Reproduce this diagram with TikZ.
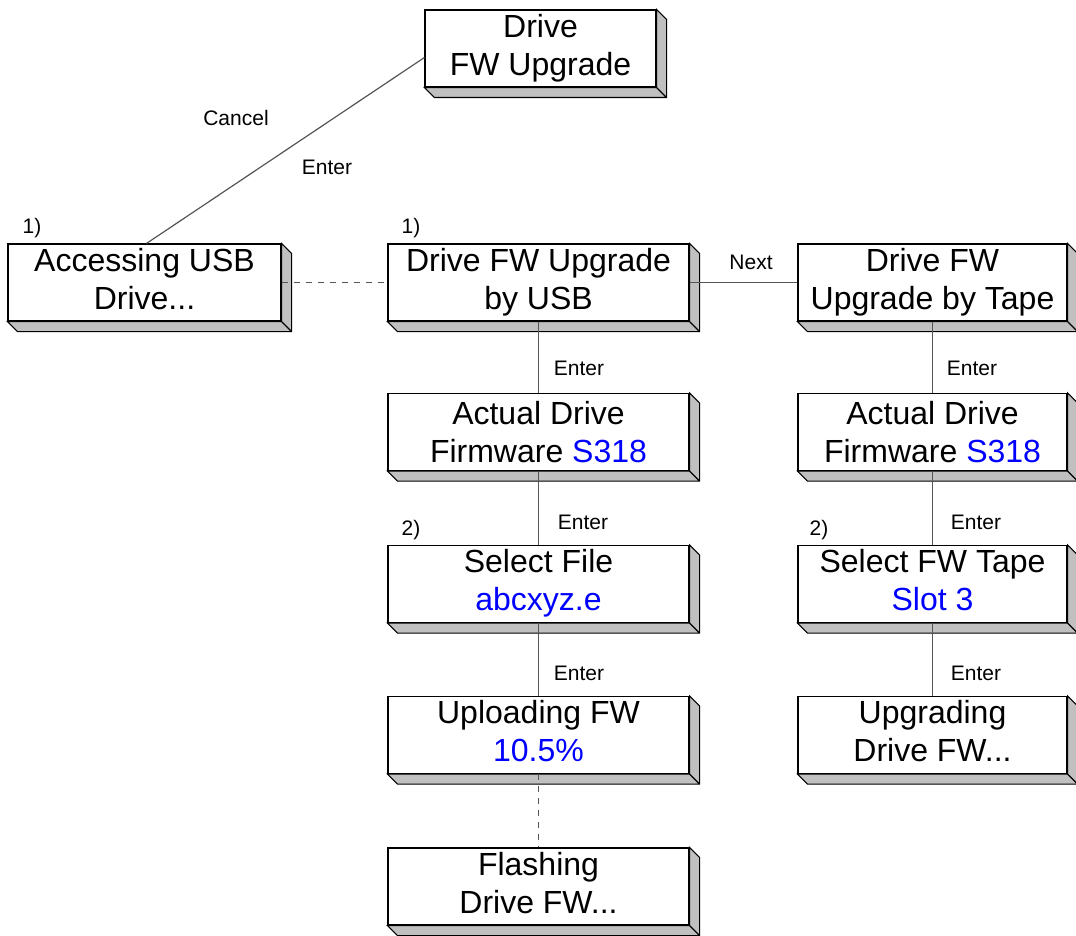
\documentclass[tikz,border=0pt]{standalone}
\usepackage{fontspec}
\setmainfont{Liberation Sans}
\usetikzlibrary{positioning}
\definecolor{slab}{RGB}{192,192,192}
\definecolor{wire}{RGB}{85,85,85}
\begin{document}
\begin{tikzpicture}[x=0.5pt,y=-0.5pt,
	menu/.style={draw,fill=white,line width=0.55pt,minimum height=38.5pt,inner sep=0pt,align=center,
		font=\fontsize{16}{19}\selectfont},
	lbl/.style={font=\fontsize{10.5}{12}\selectfont,inner sep=0pt},
	wire/.style={draw=wire,line width=0.6pt}]
	\useasboundingbox (0,0) rectangle (1076,936);
	\newcommand{\slab}[1]{\draw[fill=slab,line width=0.55pt] (#1.north east)--++(10,10)--([shift={(10,10)}]#1.south east)
		--([shift={(10,10)}]#1.south west)--(#1.south west)--(#1.south east)--cycle (#1.south east)--++(10,10);}
	
	\node[menu,minimum width=115.5pt] (top) at (540.5,48.5) {Drive\\FW Upgrade};
	\node[menu,minimum width=136.5pt] (acc) at (144.5,282.5) {Accessing USB\strut\\Drive...\strut};
	\node[menu,minimum width=150.5pt] (usb) at (538.5,282.5) {Drive FW Upgrade\strut\\by USB\strut};
	\node[menu,minimum width=134.5pt] (tape) at (932.5,282.5) {Drive FW\strut\\Upgrade by Tape\strut};
	\node[menu,minimum width=150.5pt] (act1) at (538.5,432) {Actual Drive\\Firmware \textcolor{blue}{S318}};
	\node[menu,minimum width=134.5pt] (act2) at (932.5,432) {Actual Drive\\Firmware \textcolor{blue}{S318}};
	\node[menu,minimum width=150.5pt] (sel1) at (538.5,584) {Select File\strut\\\textcolor{blue}{abcxyz.e}\strut};
	\node[menu,minimum width=134.5pt] (sel2) at (932.5,584) {Select FW Tape\strut\\\textcolor{blue}{Slot 3}\strut};
	\node[menu,minimum width=150.5pt] (up1) at (538.5,735) {Uploading FW\strut\\\textcolor{blue}{10.5\%}\strut};
	\node[menu,minimum width=134.5pt] (up2) at (932.5,735) {Upgrading\strut\\Drive FW...\strut};
	\node[menu,minimum width=150.5pt] (flash) at (538.5,886.5) {Flashing\strut\\Drive FW...\strut};
	\foreach \b in {top,acc,usb,tape,act1,act2,sel1,sel2,up1,up2,flash} {\slab{\b}}
	
	% connectors
	\coordinate (ct) at ([yshift=-4.5pt]top.west);
	\draw[wire] (ct)--([xshift=1pt]acc.north);
	\draw[wire,dashed] (acc.east)--(usb.west);
	\draw[wire] (usb.east)--(tape.west);
	\draw[wire] (usb)--(act1) (act1)--(sel1) (sel1)--(up1);
	\draw[wire,dashed] (up1)--(flash);
	\draw[wire] (tape)--(act2) (act2)--(sel2) (sel2)--(up2);
	
	% labels
	\node[lbl] (next) at (751,262) {Next};
	\node[lbl] (cancel) at (236,118) {Cancel};
	\node[lbl] (enter) at (327,167) {Enter};
	\node[lbl] (e1) at (579,368) {Enter};
	\node[lbl] (e2) at (583,522) {Enter};
	\node[lbl] (e3) at (579,673) {Enter};
	\node[lbl] (e4) at (972,368) {Enter};
	\node[lbl] (e5) at (976,522) {Enter};
	\node[lbl] (e6) at (976,673) {Enter};
	\node[lbl] (n1) at (32,228) {1)};
	\node[lbl] (n2) at (411,228) {1)};
	\node[lbl] (n3) at (411,530) {2)};
	\node[lbl] (n4) at (819,530) {2)};
\end{tikzpicture}
\end{document}
